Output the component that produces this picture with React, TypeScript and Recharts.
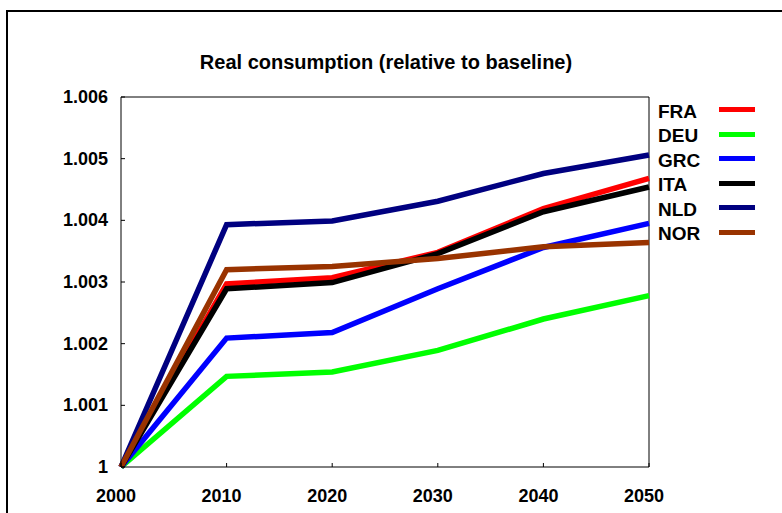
import { LineChart, Line, XAxis, YAxis, ReferenceLine, Legend } from "recharts";

const years = [2000, 2010, 2020, 2030, 2040, 2050];
const fra = [1, 1.00297, 1.00307, 1.00348, 1.00419, 1.00468];
const deu = [1, 1.00147, 1.00154, 1.00189, 1.0024, 1.00278];
const grc = [1, 1.00209, 1.00218, 1.00289, 1.00356, 1.00395];
const ita = [1, 1.00289, 1.00299, 1.00346, 1.00414, 1.00454];
const nld = [1, 1.00393, 1.00399, 1.00431, 1.00476, 1.00506];
const nor = [1, 1.0032, 1.00325, 1.00338, 1.00357, 1.00364];

const yTicks = [1, 1.001, 1.002, 1.003, 1.004, 1.005, 1.006];

const series = [
  { key: "FRA", values: fra, color: "#ff0000" },
  { key: "DEU", values: deu, color: "#00ff00" },
  { key: "GRC", values: grc, color: "#0000ff" },
  { key: "ITA", values: ita, color: "#000000" },
  { key: "NLD", values: nld, color: "#000080" },
  { key: "NOR", values: nor, color: "#993300" },
];

const data = years.map((year, i) => {
  const row: Record<string, number> = { year };
  for (const s of series) row[s.key] = s.values[i];
  return row;
});

const FONT = '"Liberation Sans", Arial, sans-serif';
const TICK_GAP = 13;

// tick labels sit outside the frame, tick marks point inward
function YTick({ x, y, payload }: any) {
  const axisX = x + TICK_GAP;
  return (
    <g>
      <line x1={axisX} x2={axisX + 4} y1={y} y2={y} stroke="#000" />
      <text x={x} y={y} dy={6} textAnchor="end" fontFamily={FONT} fontWeight={700} fontSize={18} fill="#000">
        {payload.value === 1 ? "1" : payload.value.toFixed(3)}
      </text>
    </g>
  );
}

function XTick({ x, y, payload }: any) {
  const axisY = y - TICK_GAP;
  return (
    <g>
      <line x1={x} x2={x} y1={axisY} y2={axisY - 4} stroke="#000" />
      <text x={x - 5} y={axisY + 35} textAnchor="middle" fontFamily={FONT} fontWeight={700} fontSize={18} fill="#000">
        {payload.value}
      </text>
    </g>
  );
}

function renderLegend() {
  return (
    <div style={{ fontFamily: FONT, fontWeight: 700, fontSize: 19 }}>
      {series.map(s => (
        <div key={s.key} style={{ display: "flex", alignItems: "center", height: 24.5 }}>
          <span style={{ width: 61, lineHeight: "19px" }}>{s.key}</span>
          <span style={{ width: 36, height: 5, background: s.color, marginTop: -3 }} />
        </div>
      ))}
    </div>
  );
}

export default function App() {
  return (
    <div style={{ position: "fixed", left: 0, top: 0, width: 782, height: 513, overflow: "hidden", background: "#fff" }}>
      <div style={{ position: "absolute", left: 6, top: 10, width: 800, height: 540, border: "2px solid #000" }} />
      <div
        style={{
          position: "absolute", left: 121, width: 530, top: 52, textAlign: "center",
          fontFamily: FONT, fontWeight: 700, fontSize: 20, lineHeight: "20px", color: "#000",
        }}
      >
        Real consumption (relative to baseline)
      </div>
      <div style={{ position: "absolute", left: 0, top: 0 }}>
        <LineChart width={782} height={513} data={data} margin={{ top: 97, right: 133, bottom: 0, left: 0 }}>
          <XAxis
            dataKey="year" type="number" domain={[2000, 2050]} ticks={years}
            stroke="#000" tickLine={false} tickSize={TICK_GAP} tickMargin={0} tick={XTick} height={46}
          />
          <YAxis
            type="number" domain={[1, 1.006]} ticks={yTicks} width={121}
            stroke="#000" tickLine={false} tickSize={TICK_GAP} tickMargin={0} tick={YTick}
          />
          <ReferenceLine y={1.006} stroke="#000" />
          <ReferenceLine x={2050} stroke="#000" />
          {series.map(s => (
            <Line
              key={s.key} type="linear" dataKey={s.key} stroke={s.color}
              strokeWidth={5.5} dot={false} isAnimationActive={false}
            />
          ))}
          <Legend
            layout="vertical" align="center" verticalAlign="middle" content={renderLegend}
            wrapperStyle={{ left: 658, top: 99, width: 110 }}
          />
        </LineChart>
      </div>
    </div>
  );
}
